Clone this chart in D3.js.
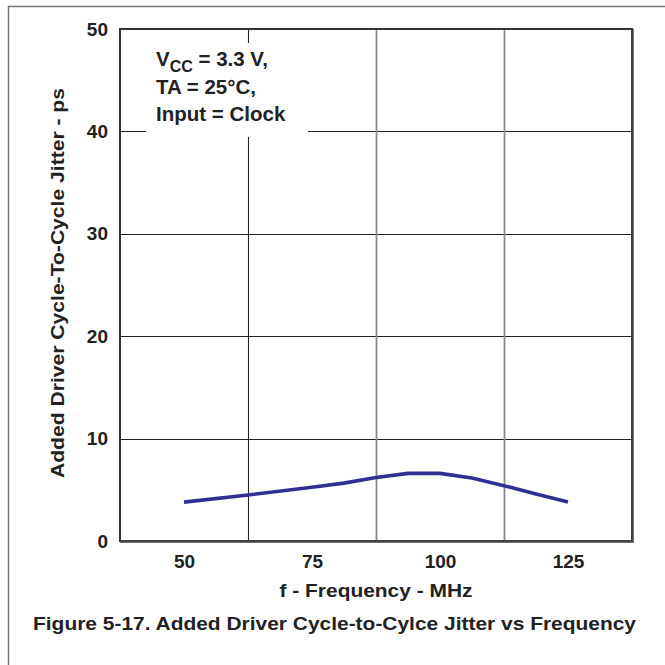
<!DOCTYPE html>
<html>
<head>
<meta charset="utf-8">
<script src="https://cdn.jsdelivr.net/npm/d3@7"></script>
<style>
  body { margin: 0; background: #fff; }
  svg { display: block; font-family: "Liberation Sans", Arial, sans-serif; font-weight: bold; }
</style>
</head>
<body>
<div id="chart"></div>
<script>
// frequency (MHz) and jitter (ps)
var freq   = [50, 62.5, 75, 81.25, 87.5, 93.75, 100, 106.25, 112.5, 118.75, 125];
var jitter = [3.8, 4.5, 5.25, 5.65, 6.2, 6.6, 6.6, 6.15, 5.4, 4.6, 3.8];

var xTicks = [50, 75, 100, 125];
var xGrid  = [62.5, 87.5, 112.5];
var yTicks = [0, 10, 20, 30, 40, 50];
var notes  = ["TA = 25\u00b0C,", "Input = Clock"];

var W = 665, H = 665;
var margin = { left: 120, top: 29, right: 33, bottom: 124 };
var width = W - margin.left - margin.right,
    height = H - margin.top - margin.bottom;

var svg = d3.select("#chart").append("svg")
  .attr("width", W).attr("height", H);

// outer figure frame (top + left)
svg.append("path")
  .attr("d", "M8.5," + H + "V6.5H" + W)
  .attr("fill", "none").attr("stroke", "#777").attr("stroke-width", 1.5);

var g = svg.append("g")
  .attr("transform", "translate(" + margin.left + "," + margin.top + ")");

var x = d3.scaleLinear().domain([37.5, 137.5]).range([0, width]);
var y = d3.scaleLinear().domain([0, 50]).range([height, 0]);

// gridlines
g.selectAll(".hgrid").data(yTicks.slice(1, -1)).enter().append("line")
  .attr("x1", 0).attr("x2", width)
  .attr("y1", function(d) { return Math.round(y(d)) + 0.5; })
  .attr("y2", function(d) { return Math.round(y(d)) + 0.5; })
  .attr("stroke", "#222").attr("stroke-width", 1.2);

g.selectAll(".vgrid").data(xGrid).enter().append("line")
  .attr("x1", function(d) { return Math.round(x(d)) + 0.5; })
  .attr("x2", function(d) { return Math.round(x(d)) + 0.5; })
  .attr("y1", 0).attr("y2", height)
  .attr("stroke", function(d, i) { return i === 0 ? "#222" : "#8a8a8a"; })
  .attr("stroke-width", function(d, i) { return i === 0 ? 1.1 : 1.8; });

// annotation box (white, covers gridlines)
g.append("rect")
  .attr("x", 26).attr("y", 14).attr("width", 162).attr("height", 94)
  .attr("fill", "#fff");

var ann = g.append("text").attr("font-size", 20.5).attr("fill", "#222");
var l1 = ann.append("tspan").attr("x", 36).attr("y", 37);
l1.append("tspan").text("V");
l1.append("tspan").attr("font-size", 16).attr("dy", 6).text("CC");
l1.append("tspan").attr("dy", -6).text(" = 3.3 V,");
notes.forEach(function(t, i) {
  ann.append("tspan").attr("x", 36).attr("y", 65 + i * 27).text(t);
});

// plot frame
g.append("rect")
  .attr("x", 0).attr("y", 0).attr("width", width).attr("height", height)
  .attr("fill", "none").attr("stroke", "#333").attr("stroke-width", 2);
g.append("path")
  .attr("d", "M" + (width + 0.5) + ",0V" + (height + 0.5) + "H0")
  .attr("fill", "none").attr("stroke", "#444").attr("stroke-width", 2.5);

// data line
var line = d3.line()
  .x(function(d, i) { return x(freq[i]); })
  .y(function(d) { return y(d); });

g.append("path")
  .datum(jitter)
  .attr("d", line)
  .attr("fill", "none")
  .attr("stroke", "#2e3192")
  .attr("stroke-width", 3.6);

// axes (labels only)
var xAxis = d3.axisBottom(x).tickValues(xTicks).tickSize(0).tickPadding(14);
var xa = g.append("g").attr("transform", "translate(0," + height + ")").call(xAxis);
xa.select(".domain").remove();
xa.selectAll("text").attr("font-size", 19).attr("fill", "#222")
  .attr("font-family", null);

var yAxis = d3.axisLeft(y).tickValues(yTicks).tickSize(0).tickPadding(12);
var ya = g.append("g").call(yAxis);
ya.select(".domain").remove();
ya.selectAll("text").attr("font-size", 19).attr("fill", "#222")
  .attr("font-family", null);

// axis titles
svg.append("text")
  .attr("x", margin.left + width / 2).attr("y", 597)
  .attr("text-anchor", "middle").attr("font-size", 19).attr("fill", "#222")
  .attr("textLength", 193).attr("lengthAdjust", "spacingAndGlyphs")
  .text("f - Frequency - MHz");

svg.append("text")
  .attr("transform", "translate(63.5,283) rotate(-90)")
  .attr("text-anchor", "middle").attr("font-size", 19).attr("fill", "#222")
  .attr("textLength", 390).attr("lengthAdjust", "spacingAndGlyphs")
  .text("Added Driver Cycle-To-Cycle Jitter - ps");

svg.append("text")
  .attr("x", 334.5).attr("y", 630)
  .attr("text-anchor", "middle").attr("font-size", 19).attr("fill", "#222")
  .attr("textLength", 603).attr("lengthAdjust", "spacingAndGlyphs")
  .text("Figure 5-17. Added Driver Cycle-to-Cylce Jitter vs Frequency");
</script>
</body>
</html>
